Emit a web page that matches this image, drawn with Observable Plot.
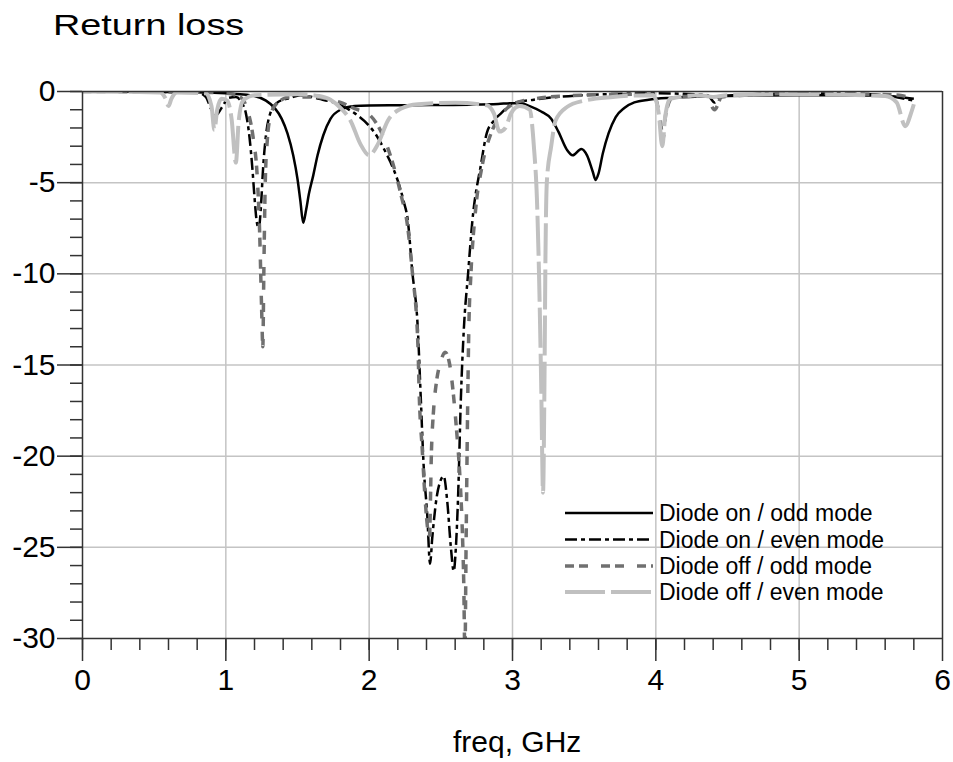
<!DOCTYPE html>
<html>
<head>
<meta charset="utf-8">
<script src="https://cdn.jsdelivr.net/npm/d3@7"></script>
<script src="https://cdn.jsdelivr.net/npm/@observablehq/plot@0.6"></script>
<style>
  body { margin: 0; background: #fff; font-family: "Liberation Sans", Arial, sans-serif; }
  #wrap { position: relative; width: 953px; height: 762px; overflow: hidden; }
  #title { position: absolute; left: 53px; top: 10px; font-size: 30px; line-height: 1; color: #000; transform: scaleX(1.26); transform-origin: left top; white-space: nowrap; }
  #chart { position: absolute; left: 0; top: 52px; }
  #xlabel { position: absolute; left: 453px; top: 727px; font-size: 30px; line-height: 1; color: #000; white-space: nowrap; }
  #legend { position: absolute; left: 0; top: 0; }
</style>
</head>
<body>
<div id="wrap">
  <div id="title">Return loss</div>
  <div id="chart"></div>
  <div id="xlabel">freq, GHz</div>
  <svg id="legend" width="953" height="762"></svg>
</div>
<script>
// ---- Data ----
const seriesNames = ["Diode on / odd mode", "Diode on / even mode", "Diode off / odd mode", "Diode off / even mode"];

const onOddF  = [0, 0.5, 0.85, 1.0, 1.1, 1.2, 1.28, 1.34, 1.39, 1.43, 1.47, 1.5, 1.52, 1.54, 1.56, 1.58, 1.61, 1.64, 1.68, 1.73, 1.8, 1.9, 2.0, 2.3, 2.7, 2.9, 3.0, 3.06, 3.12, 3.2, 3.27, 3.32, 3.38, 3.42, 3.48, 3.52, 3.56, 3.58, 3.6, 3.63, 3.67, 3.72, 3.78, 3.85, 3.95, 4.1, 4.5, 5.0, 5.5, 5.7, 5.8];
const onOddDb = [0, -0.02, -0.05, -0.1, -0.15, -0.25, -0.5, -0.9, -1.5, -2.3, -3.5, -4.8, -6.0, -7.2, -6.5, -5.6, -4.6, -3.5, -2.4, -1.5, -1.0, -0.8, -0.77, -0.75, -0.72, -0.68, -0.64, -0.65, -0.8, -1.1, -1.5, -2.2, -3.2, -3.5, -3.15, -3.5, -4.4, -4.85, -4.5, -3.4, -2.3, -1.4, -0.9, -0.6, -0.45, -0.35, -0.25, -0.2, -0.22, -0.3, -0.4];

const onEvenF  = [0, 0.8, 0.86, 0.9, 0.93, 0.97, 1.02, 1.07, 1.11, 1.14, 1.165, 1.185, 1.2, 1.215, 1.23, 1.245, 1.26, 1.28, 1.31, 1.36, 1.45, 1.52, 1.65, 1.8, 1.9, 1.99, 2.05, 2.1, 2.15, 2.2, 2.24, 2.27, 2.3, 2.34, 2.36, 2.38, 2.405, 2.425, 2.44, 2.47, 2.5, 2.52, 2.545, 2.57, 2.59, 2.605, 2.62, 2.64, 2.66, 2.69, 2.72, 2.78, 2.82, 2.87, 2.92, 3.0, 3.15, 3.5, 4.0, 4.36, 4.41, 4.46, 5.0, 5.5, 5.8];
const onEvenDb = [0, -0.05, -0.3, -1.0, -1.3, -0.9, -0.35, -0.3, -0.6, -1.2, -2.5, -4.2, -5.8, -7.1, -7.5, -6.3, -4.2, -2.4, -1.2, -0.6, -0.35, -0.2, -0.4, -0.75, -1.2, -1.8, -2.4, -3.1, -3.9, -4.9, -6.0, -7.1, -9.8, -13.1, -16.8, -20.5, -23.2, -25.9, -24.5, -22.3, -21.3, -21.1, -22.5, -25.0, -26.3, -25.0, -22.3, -16.8, -13.1, -10.0, -7.1, -4.0, -2.3, -1.6, -1.2, -0.66, -0.45, -0.2, -0.1, -0.2, -0.6, -0.25, -0.1, -0.15, -0.5];

const offOddF  = [0, 0.85, 1.0, 1.1, 1.15, 1.19, 1.22, 1.235, 1.25, 1.258, 1.265, 1.275, 1.29, 1.31, 1.35, 1.45, 1.6, 1.8, 1.92, 1.99, 2.1, 2.22, 2.27, 2.3, 2.34, 2.35, 2.37, 2.39, 2.41, 2.42, 2.435, 2.45, 2.47, 2.5, 2.53, 2.56, 2.59, 2.61, 2.635, 2.65, 2.66, 2.668, 2.676, 2.685, 2.695, 2.71, 2.74, 2.79, 2.85, 2.92, 3.0, 3.15, 3.5, 3.98, 4.03, 4.05, 4.07, 4.12, 4.35, 4.41, 4.46, 5.0, 5.7, 5.8];
const offOddDb = [0, -0.05, -0.1, -0.3, -1.0, -2.5, -4.8, -7.5, -12.0, -14.0, -10.0, -5.0, -2.6, -1.4, -0.7, -0.3, -0.3, -0.6, -1.0, -1.2, -2.5, -5.6, -7.5, -9.8, -13.9, -16.8, -19.6, -22.3, -24.1, -24.5, -19.6, -17.4, -15.9, -14.8, -14.3, -14.9, -16.8, -18.6, -21.4, -24.1, -27.0, -31.0, -25.0, -18.6, -13.1, -10.0, -6.7, -4.0, -2.3, -1.3, -0.7, -0.4, -0.2, -0.15, -1.5, -2.6, -1.2, -0.3, -0.25, -1.0, -0.3, -0.1, -0.2, -0.5];

const offEvenF  = [0, 0.54, 0.58, 0.6, 0.62, 0.66, 0.86, 0.9, 0.92, 0.94, 0.97, 1.01, 1.04, 1.07, 1.09, 1.12, 1.2, 1.5, 1.65, 1.73, 1.8, 1.87, 1.94, 2.0, 2.06, 2.13, 2.22, 2.34, 2.6, 2.82, 2.87, 2.91, 2.95, 2.99, 3.05, 3.12, 3.15, 3.17, 3.185, 3.2, 3.213, 3.223, 3.23, 3.24, 3.27, 3.3, 3.38, 3.5, 3.7, 3.98, 4.02, 4.045, 4.065, 4.1, 4.3, 4.4, 4.5, 5.0, 5.6, 5.68, 5.74, 5.78, 5.8];
const offEvenDb = [0, -0.05, -0.4, -0.8, -0.4, -0.05, -0.1, -0.8, -2.1, -1.0, -0.4, -0.5, -1.5, -3.9, -1.6, -0.5, -0.2, -0.15, -0.25, -0.45, -0.9, -1.6, -2.9, -3.5, -2.9, -1.6, -0.95, -0.7, -0.62, -0.75, -1.2, -2.2, -2.0, -1.2, -0.8, -1.0, -3.1, -5.8, -10.0, -16.0, -22.0, -16.0, -9.0, -4.9, -3.0, -1.6, -0.85, -0.5, -0.3, -0.2, -1.2, -3.0, -1.4, -0.4, -0.2, -0.3, -0.2, -0.15, -0.25, -0.6, -1.9, -1.2, -0.7];

const xMajor = [0, 1, 2, 3, 4, 5, 6];
const xMinor = d3.range(0, 30).map(i => i / 5);
const yMajor = [0, -5, -10, -15, -20, -25, -30];
const yMinor = d3.range(-30, 1, 1);

// ---- Styles (separate from data) ----
const styles = [
  {stroke: "#000000", strokeWidth: 2.5, dash: null},
  {stroke: "#000000", strokeWidth: 2.5, dash: "12,4,4,4"},
  {stroke: "#707070", strokeWidth: 3.5, dash: "9,5,9,13"},
  {stroke: "#c0c0c0", strokeWidth: 4, dash: "40,6"}
];

const toRows = (F, D) => F.map((f, i) => ({f, db: D[i]}));
const seriesData = [
  toRows(onOddF, onOddDb),
  toRows(onEvenF, onEvenDb),
  toRows(offOddF, offOddDb),
  toRows(offEvenF, offEvenDb)
];

const axisColor = "#333";
const fmt = d => String(d);

const chart = Plot.plot({
  width: 953,
  height: 648,
  marginLeft: 82,
  marginRight: 11,
  marginTop: 39,
  marginBottom: 62,
  x: {domain: [0, 6]},
  y: {domain: [-30, 0]},
  style: {fontFamily: "'Liberation Sans', Arial, sans-serif", fontSize: "30px", color: "#000", background: "#fff", overflow: "visible"},
  marks: [
    Plot.gridX(xMajor.filter(v => v > 0 && v < 6), {stroke: "#c4c4c4", strokeOpacity: 1, strokeWidth: 1.5}),
    Plot.gridY(yMajor.filter(v => v > -30 && v < 0), {stroke: "#c4c4c4", strokeOpacity: 1, strokeWidth: 1.5}),
    ...seriesData.map((rows, i) => Plot.line(rows, {
      x: "f", y: "db",
      stroke: styles[i].stroke,
      strokeWidth: styles[i].strokeWidth,
      strokeDasharray: styles[i].dash,
      strokeLinecap: "butt",
      curve: "monotone-x",
      clip: true
    })),
    Plot.ruleY([0, -30], {stroke: axisColor, strokeWidth: 1.5}),
    Plot.ruleX([0, 6], {stroke: axisColor, strokeWidth: 1.5}),
    Plot.axisX(xMinor, {tickSize: 12, tickFormat: () => "", label: null, stroke: axisColor, strokeWidth: 1.5}),
    Plot.axisX(xMajor, {tickSize: 23, tickPadding: 7, tickFormat: fmt, fontSize: 30, label: null, stroke: axisColor, strokeWidth: 1.5, fill: "#000"}),
    Plot.axisY(yMinor, {tickSize: 12, tickFormat: () => "", label: null, stroke: axisColor, strokeWidth: 1.5}),
    Plot.axisY(yMajor, {tickSize: 25, tickPadding: 2, tickFormat: fmt, fontSize: 30, label: null, stroke: axisColor, strokeWidth: 1.5, fill: "#000"})
  ]
});
document.getElementById("chart").appendChild(chart);

// ---- Legend (inside the plot area, lower right) ----
const legend = d3.select("#legend");
const rowY = [513, 539.5, 566, 592];
seriesNames.forEach((name, i) => {
  const s = styles[i];
  legend.append("line")
    .attr("x1", 565).attr("x2", 653)
    .attr("y1", rowY[i]).attr("y2", rowY[i])
    .attr("stroke", s.stroke)
    .attr("stroke-width", s.strokeWidth)
    .attr("stroke-dasharray", s.dash);
  legend.append("text")
    .attr("x", 659).attr("y", rowY[i] + 8)
    .attr("font-family", "'Liberation Sans', Arial, sans-serif")
    .attr("font-size", 23)
    .attr("fill", "#000")
    .text(name);
});
</script>
</body>
</html>
